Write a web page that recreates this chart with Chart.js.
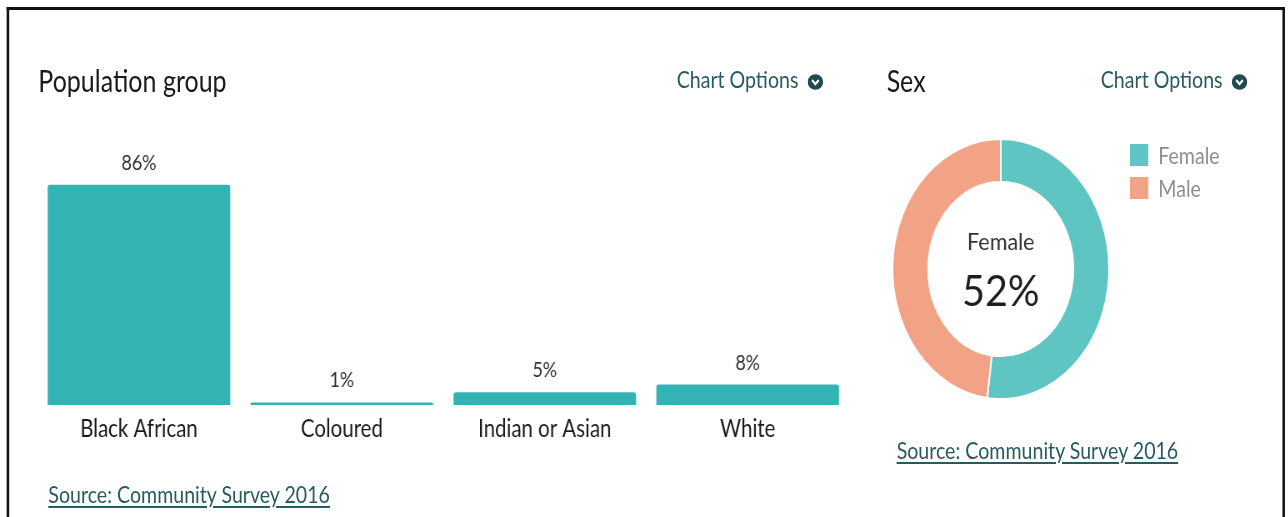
<!DOCTYPE html>
<html>
<head>
<meta charset="utf-8">
<script src="https://cdn.jsdelivr.net/npm/chart.js@4.4.0/dist/chart.umd.min.js"></script>
<style>
  html, body { margin: 0; padding: 0; background: #fff; overflow: hidden; }
  body { width: 1288px; height: 517px; font-family: Lato, "Open Sans", sans-serif; }
  /* the source picture is squeezed sideways, so the page is laid out wider and scaled */
  #page { position: absolute; left: 0; top: 0; width: 1546px; height: 517px; transform: scaleX(0.8333); transform-origin: 0 0; }
  .frame { position: absolute; left: 8px; top: 7px; width: 1534px; height: 560px; box-sizing: border-box; border: 3px solid #111; border-bottom: none; }
  .txt { position: absolute; white-space: nowrap; line-height: 1; }
  .title { font-size: 30px; color: #1a1a1a; }
  .opts { font-size: 23.5px; color: #285b60; }
  .src { font-size: 23.5px; color: #285b60; text-decoration: underline; text-underline-offset: 3px; }
  .legend { position: absolute; left: 1356px; top: 138px; }
  .legend div { display: flex; align-items: center; height: 33px; font-size: 23.5px; color: #8e8e8e; }
  .legend span.box { display: inline-block; width: 22px; height: 22px; margin-right: 12px; }
  canvas { position: absolute; }
</style>
</head>
<body>
<div id="page">
  <div class="frame"></div>

  <div class="txt title" style="left:46px; top:65px;">Population group</div>
  <div class="txt opts" style="left:812px; top:68px;">Chart Options</div>
  <svg style="position:absolute; left:969px; top:74px;" width="19" height="16" viewBox="0 0 19 16">
    <ellipse cx="9.5" cy="8" rx="9.3" ry="7.8" fill="#1f4b4e"/>
    <polyline points="5.5,6.2 9.5,10 13.5,6.2" fill="none" stroke="#fff" stroke-width="2.4"/>
  </svg>
  <canvas id="barChart" width="974" height="310" style="left:45px; top:140px;"></canvas>
  <div class="txt src" style="left:58px; top:483px;">Source: Community Survey 2016</div>

  <div class="txt title" style="left:1064px; top:65px;">Sex</div>
  <div class="txt opts" style="left:1321px; top:68px;">Chart Options</div>
  <svg style="position:absolute; left:1478px; top:74px;" width="19" height="16" viewBox="0 0 19 16">
    <ellipse cx="9.5" cy="8" rx="9.3" ry="7.8" fill="#1f4b4e"/>
    <polyline points="5.5,6.2 9.5,10 13.5,6.2" fill="none" stroke="#fff" stroke-width="2.4"/>
  </svg>
  <canvas id="sexChart" width="262" height="262" style="left:1070px; top:138px;"></canvas>
  <div class="legend" id="sexLegend"></div>
  <div class="txt src" style="left:1076px; top:439px;">Source: Community Survey 2016</div>
</div>

<script>
const groupLabels = ['Black African', 'Coloured', 'Indian or Asian', 'White'];
const groupValues = [86, 1, 5, 8];
const sexLabels = ['Female', 'Male'];
const sexValues = [52, 48];

const barColor = '#33b3b3';
const sexColors = ['#5fc5c2', '#f2a386'];

// percentage above each bar
const valueLabels = {
  id: 'valueLabels',
  afterDatasetsDraw(chart) {
    const ctx = chart.ctx;
    const meta = chart.getDatasetMeta(0);
    ctx.save();
    ctx.font = '21.5px Lato';
    ctx.fillStyle = '#333';
    ctx.textAlign = 'center';
    ctx.textBaseline = 'alphabetic';
    meta.data.forEach((bar, i) => {
      ctx.fillText(chart.data.datasets[0].data[i] + '%', bar.x, bar.y - 15);
    });
    ctx.restore();
  }
};

new Chart(document.getElementById('barChart'), {
  type: 'bar',
  data: {
    labels: groupLabels,
    datasets: [{
      data: groupValues,
      backgroundColor: barColor,
      borderRadius: 3,
      categoryPercentage: 1,
      barPercentage: 0.9
    }]
  },
  options: {
    responsive: false,
    animation: false,
    layout: { padding: { top: 9, left: 0, right: 0, bottom: 0 } },
    plugins: { legend: { display: false }, tooltip: { enabled: false } },
    scales: {
      y: { display: false, min: 0, max: 100 },
      x: {
        grid: { display: false, drawTicks: false },
        border: { display: false },
        ticks: { color: '#1a1a1a', font: { family: 'Lato', size: 24.5 }, padding: 9 },
        afterFit(axis) { axis.height = 45; }
      }
    }
  },
  plugins: [valueLabels]
});

// text in the middle of the doughnut (a little less squeezed, as in the source)
const centerText = {
  id: 'centerText',
  afterDraw(chart) {
    const arc = chart.getDatasetMeta(0).data[0];
    const ctx = chart.ctx;
    ctx.save();
    ctx.translate(arc.x, arc.y);
    ctx.scale(1.1, 1);
    ctx.textAlign = 'center';
    ctx.textBaseline = 'alphabetic';
    ctx.fillStyle = '#333';
    ctx.font = '23.5px Lato';
    ctx.fillText(chart.data.labels[0], 0, -19);
    ctx.fillStyle = '#1e1e1e';
    ctx.font = '43px Lato';
    ctx.fillText(chart.data.datasets[0].data[0] + '%', 0, 37);
    ctx.restore();
  }
};

new Chart(document.getElementById('sexChart'), {
  type: 'doughnut',
  data: {
    labels: sexLabels,
    datasets: [{
      data: sexValues,
      backgroundColor: sexColors,
      borderColor: '#fff',
      borderWidth: 2,
      hoverOffset: 0
    }]
  },
  options: {
    responsive: false,
    animation: false,
    cutout: '67%',
    plugins: { legend: { display: false }, tooltip: { enabled: false } }
  },
  plugins: [centerText]
});

const legendBox = document.getElementById('sexLegend');
sexLabels.forEach((lab, i) => {
  const row = document.createElement('div');
  row.innerHTML = '<span class="box" style="background:' + sexColors[i] + '"></span>' + lab;
  legendBox.appendChild(row);
});
</script>
</body>
</html>
